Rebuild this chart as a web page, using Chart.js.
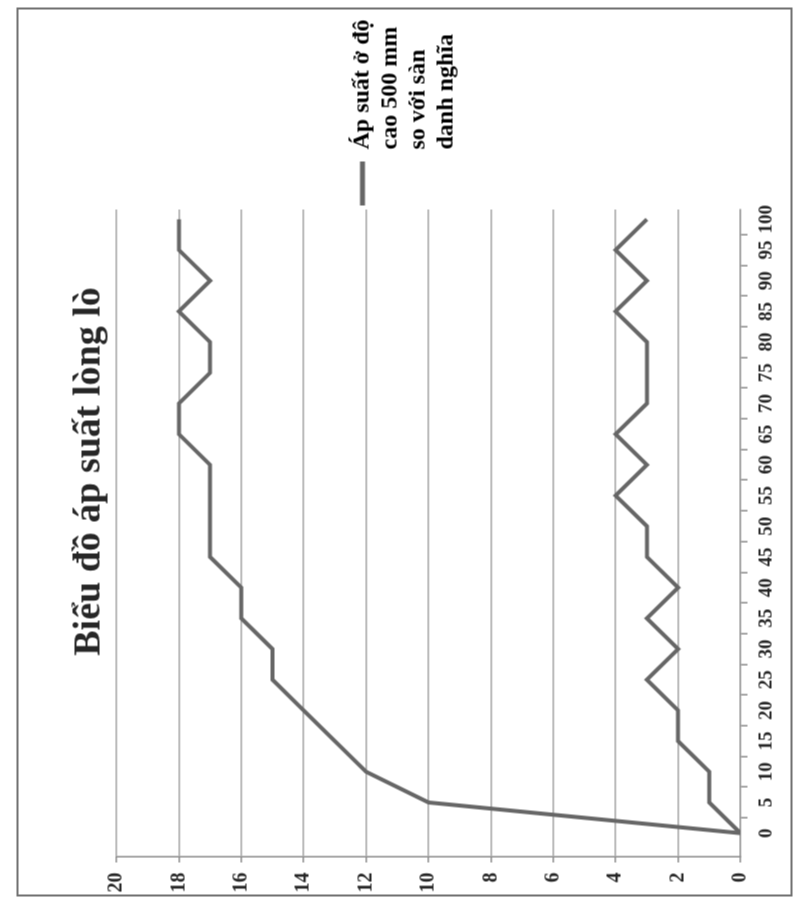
<!DOCTYPE html>
<html>
<head>
<meta charset="utf-8">
<script src="https://cdn.jsdelivr.net/npm/chart.js@4.4.1/dist/chart.umd.min.js"></script>
<style>
  html, body { margin:0; padding:0; background:#fff; width:800px; height:902px; overflow:hidden; }
  #c { position:absolute; left:-40px; top:64px; transform:rotate(-90deg); transform-origin:center center; }
</style>
</head>
<body>
<canvas id="c" width="889" height="776"></canvas>
<script>
// ---- data ----
const categories = [0,5,10,15,20,25,30,35,40,45,50,55,60,65,70,75,80,85,90,95,100];
const categoryLabels = ['0','5','10','15','20','25','30','35','40','45','50','55','60','65','70','75','80','85','90','95','100'];
const upperSeries = [0,10,12,13,14,15,15,16,16,17,17,17,17,18,18,17,17,18,17,18,18];
const lowerSeries = [0,1,1,2,2,3,2,3,2,3,3,4,3,4,3,3,3,4,3,4,3];
const chartTitle = 'Biểu đồ áp suất lòng lò';
const legendLines = ['Áp suất ở độ', 'cao 500 mm', 'so với sàn', 'danh nghĩa'];
const seriesName = legendLines.join(' ');

const LINE = '#666666';
const GRID = '#a3a3a3';
const AXIS = '#8a8a8a';
const TXT = '#262626';
const SERIF = '"Liberation Serif", "Times New Roman", serif';

// tick positions: labelled categories plus unlabelled marks between them
const tickPositions = [];
categories.forEach((c, i) => {
  tickPositions.push(c);
  if (i < categories.length - 1) tickPositions.push((c + categories[i + 1]) / 2);
});

const borderPlugin = {
  id: 'outerBorder',
  afterLayout(chart) {
    // title is centred over the area left of the legend margin
    if (chart.titleBlock) chart.titleBlock.right -= 37;
  },
  afterDraw(chart) {
    const ctx = chart.ctx;
    ctx.save();
    ctx.strokeStyle = '#707070';
    ctx.lineWidth = 2;
    ctx.strokeRect(1, 1, chart.width - 2, chart.height - 2);
    ctx.restore();
  }
};

new Chart(document.getElementById('c'), {
  type: 'line',
  data: {
    datasets: [
      {
        label: seriesName,
        data: categories.map((c, i) => ({ x: c, y: upperSeries[i] })),
        borderColor: LINE, backgroundColor: LINE, borderWidth: 4,
        pointRadius: 0, tension: 0, fill: false
      },
      {
        label: seriesName,
        data: categories.map((c, i) => ({ x: c, y: lowerSeries[i] })),
        borderColor: LINE, backgroundColor: LINE, borderWidth: 4,
        pointRadius: 0, tension: 0, fill: false
      }
    ]
  },
  options: {
    responsive: false,
    animation: false,
    devicePixelRatio: 1,
    layout: { padding: { left: 0, right: 2, top: 0, bottom: 0 } },
    plugins: {
      title: {
        display: true,
        text: chartTitle,
        color: TXT,
        font: { family: SERIF, size: 38, weight: 'bold', lineHeight: 1.2 },
        padding: { top: 50, bottom: 4.4 }
      },
      legend: {
        display: true,
        position: 'right',
        align: 'center',
        labels: {
          usePointStyle: true,
          pointStyleWidth: 44,
          padding: 4,
          color: TXT,
          font: { family: SERIF, size: 24, weight: 'bold' },
          generateLabels: () => legendLines.map((t, i) => ({
            text: t,
            fillStyle: i === 0 ? LINE : 'rgba(0,0,0,0)',
            strokeStyle: i === 0 ? LINE : 'rgba(0,0,0,0)',
            lineWidth: i === 0 ? 5 : 0,
            pointStyle: 'line',
            hidden: false,
            datasetIndex: 0
          }))
        }
      },
      tooltip: { enabled: false }
    },
    scales: {
      x: {
        type: 'linear',
        min: -3.8,
        max: 101.6,
        afterBuildTicks: s => { s.ticks = tickPositions.map(v => ({ value: v })); },
        afterFit: s => { s.height = 52; },
        ticks: {
          autoSkip: false,
          maxRotation: 0,
          minRotation: 0,
          padding: 8,
          color: TXT,
          font: { family: SERIF, size: 19, weight: 'bold' },
          callback: (v) => {
            const i = categories.indexOf(v);
            return i >= 0 ? categoryLabels[i] : '';
          }
        },
        grid: {
          drawOnChartArea: false,
          drawTicks: true,
          tickLength: 7,
          lineWidth: 1.5,
          tickColor: ctx => (ctx.tick && categories.indexOf(ctx.tick.value) >= 0) ? 'rgba(0,0,0,0)' : AXIS
        },
        border: { display: true, color: AXIS, width: 1.5 }
      },
      y: {
        min: 0,
        max: 20,
        afterFit: s => { s.width = 40; },
        ticks: {
          stepSize: 2,
          padding: 10,
          color: TXT,
          font: { family: SERIF, size: 20, weight: 'bold' }
        },
        grid: {
          color: ctx => (ctx.tick && ctx.tick.value === 0) ? 'rgba(0,0,0,0)' : GRID,
          lineWidth: 1.5,
          tickLength: 6,
          tickColor: AXIS
        },
        border: { display: true, color: AXIS, width: 1.5 }
      }
    }
  },
  plugins: [borderPlugin]
});
</script>
</body>
</html>
